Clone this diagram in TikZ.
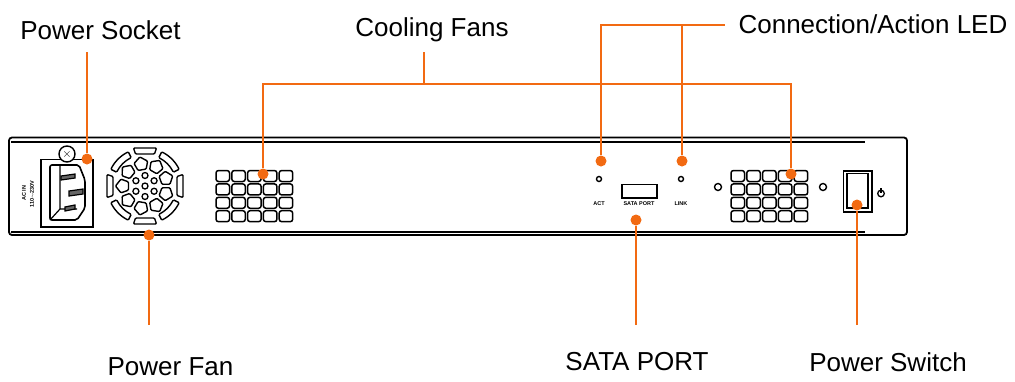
\documentclass[tikz,border=0pt]{standalone}
\usepackage{fontspec}
\setmainfont{Liberation Sans}
\usetikzlibrary{positioning}
\definecolor{callout}{HTML}{F26A12}
\tikzstyle{label} = [font=\fontsize{26}{28}\selectfont, inner sep=0pt, anchor=center]
\tikzstyle{tiny} = [font=\fontsize{5.5}{6}\selectfont\bfseries, inner sep=0pt]
\tikzstyle{dot} = [circle, fill=callout, inner sep=0pt, minimum size=11pt]
\tikzstyle{wire} = [-, draw=callout, line width=1.8pt]
\tikzstyle{body} = [-, draw=black, line width=1.6pt]
\tikzstyle{hole} = [-, draw=black, line width=1.5pt, rounded corners=2.5pt]
\tikzstyle{blade} = [-, draw=black, line width=1.4pt, rounded corners=1pt]

\begin{document}
\begin{tikzpicture}[x=1pt, y=-1pt]
    \useasboundingbox (0, 0) rectangle (1015, 381);

    % chassis
    \draw [body, line width=1.8pt, rounded corners=3pt] (9, 137.5) rectangle (907, 235);
    \draw [body, line width=2pt] (11, 142) -- (865, 142);
    \draw [body, line width=2pt] (11, 232) -- (865, 232);

    % power socket
    \draw [body] (41, 159.5) rectangle (93, 227);
    \draw [body, fill=white, rounded corners=2pt] (50, 165) -- (79, 165) -- (85, 180) -- (85, 208) -- (77, 220) -- (50, 220) -- cycle;
    \draw [body, line width=1.2pt] (60, 165) -- (60, 209) -- (50, 220) (60, 209) -- (77, 209);
    \draw [body, line width=1.2pt, fill=black!60] (61, 176) -- (75, 174) -- (75, 178) -- (61, 180) -- cycle;
    \draw [body, line width=1.2pt, fill=black!60] (69, 191) -- (83, 189) -- (83, 194) -- (69, 196) -- cycle;
    \draw [body, line width=1.2pt, fill=black!60] (65, 207) -- (75, 205) -- (75, 209) -- (65, 211) -- cycle;
    \node [circle, draw=black, line width=1.4pt, fill=white, minimum size=16pt, inner sep=0pt] (screw) at (67, 154) {};
    \node [font=\fontsize{13}{13}\selectfont\bfseries, inner sep=0pt] (screwmark) at (screw) {$\times$};
    \node [tiny, rotate=90] (acin) at (24, 193) {AC IN};
    \node [tiny, rotate=90] (acvolt) at (32, 194) {110$\sim$230V};

    % power fan
    \begin{scope}[shift={(145, 186)}]
        \foreach \a in {0, 90, 180, 270} {
            \draw [blade, rotate=\a] (-11.5, -38) -- (11.5, -38) -- (9.5, -32) -- (-9.5, -32) -- cycle;
        }
        \foreach \a in {45, 135, 225, 315} {
            \draw [blade, rotate=\a] (-19:38) arc (-19:19:38) -- (19:31.5) arc (19:-19:31.5) -- cycle;
        }
        \foreach \a in {20, 60, 100, 140, 180, 220, 260, 300, 340} {
            \draw [blade, rotate=\a] (-14:17) -- (14:17) -- (16:25) -- (0:29.5) -- (-16:25) -- cycle;
        }
        \foreach \a in {30, 90, 150, 210, 270, 330} {
            \draw [body, line width=1.3pt] (\a:10.5) circle (3);
        }
        \draw [body, line width=1.3pt] (0, 0) circle (3);
    \end{scope}

    % vents
    \foreach \vx in {216, 731} {
        \foreach \col in {0, ..., 4} {
            \foreach \row in {0, ..., 3} {
                \draw [hole] ({\vx + 15.8 * \col}, {170.5 + 13.4 * \row}) rectangle ++(13.5, 11);
            }
        }
    }

    % front panel
    \node [circle, draw=black, line width=1.4pt, minimum size=5pt, inner sep=0pt] (actled) at (599, 179) {};
    \node [circle, draw=black, line width=1.4pt, minimum size=5pt, inner sep=0pt] (linkled) at (681, 179) {};
    \node [tiny] (acttext) at (599, 204) {ACT};
    \node [tiny] (satatext) at (639, 204) {SATA PORT};
    \node [tiny] (linktext) at (681, 204) {LINK};
    \draw [body] (622, 184.5) rectangle (657, 198);
    \node [circle, draw=black, line width=1.4pt, minimum size=7pt, inner sep=0pt] (holea) at (718, 187) {};
    \node [circle, draw=black, line width=1.4pt, minimum size=7pt, inner sep=0pt] (holeb) at (823, 187) {};

    % power switch
    \draw [body] (843.5, 171) rectangle (872, 212);
    \draw [body] (847, 173.5) rectangle (868, 208);
    \draw [body, line width=1.3pt] (881, 193.5) circle (3.3);
    \draw [body, line width=1.3pt] (881, 188) -- (881, 193);

    % labels
    \node [label] (socket) at (100.5, 30) {Power Socket};
    \node [label] (fans) at (432, 30) {Cooling Fans};
    \node [label] (led) at (873, 24) {Connection/Action LED};
    \node [label] (fan) at (170.5, 367) {Power Fan};
    \node [label] (sata) at (637, 362) {SATA PORT};
    \node [label] (switch) at (888, 362) {Power Switch};

    % callout dots
    \node [dot] (dsocket) at (87, 159) {};
    \node [dot] (dfan) at (149, 235) {};
    \node [dot] (dventa) at (263, 174) {};
    \node [dot] (dventb) at (791, 174) {};
    \node [dot] (dact) at (601, 161) {};
    \node [dot] (dlink) at (682, 161) {};
    \node [dot] (dsata) at (636, 220) {};
    \node [dot] (dswitch) at (857, 205) {};

    % callout lines
    \coordinate (esocket) at (87, 52);
    \coordinate (efan) at (149, 325);
    \coordinate (esata) at (636, 325);
    \coordinate (eswitch) at (857, 325);
    \coordinate (efans) at (424, 52);
    \coordinate (jfans) at (424, 84);
    \coordinate (eled) at (725, 25);
    \coordinate (jlink) at (682, 25);

    \draw [wire] (esocket) -- (dsocket);
    \draw [wire] (efan) -- (dfan);
    \draw [wire] (esata) -- (dsata);
    \draw [wire] (eswitch) -- (dswitch);
    \draw [wire] (efans) -- (jfans);
    \draw [wire] (dventa) |- (jfans) -| (dventb);
    \draw [wire] (dact) |- (eled);
    \draw [wire] (jlink) -- (dlink);

\end{tikzpicture}
\end{document}
